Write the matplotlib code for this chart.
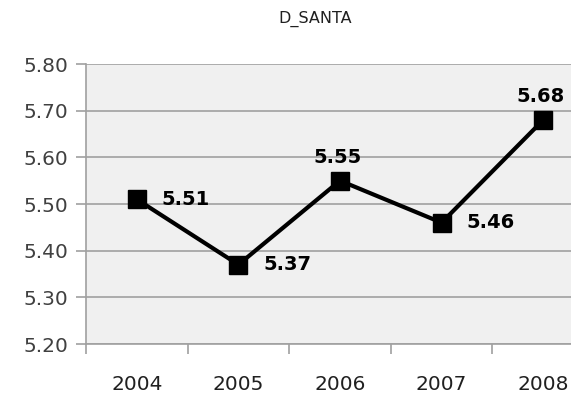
import matplotlib
matplotlib.use("Agg")
import matplotlib.pyplot as plt
from matplotlib.ticker import FixedLocator, NullFormatter

years = ["2004", "2005", "2006", "2007", "2008"]
values = [5.51, 5.37, 5.55, 5.46, 5.68]
label_pos = ["right", "right", "above", "right", "above"]
yticks = [5.20, 5.30, 5.40, 5.50, 5.60, 5.70, 5.80]

W, H = 571, 397
fig = plt.figure(figsize=(W / 100, H / 100), dpi=100)
left, right, top, bottom = 86, 594, 64, 344
ax = fig.add_axes([left / W, 1 - bottom / H, (right - left) / W, (bottom - top) / H])
ax.set_facecolor("#F0F0F0")

x = list(range(len(years)))
ax.plot(x, values, color="black", lw=3, marker="s", markersize=12.5, zorder=3, clip_on=False)

for xi, v, pos in zip(x, values, label_pos):
    if pos == "right":
        ax.annotate(f"{v:.2f}", (xi, v), xytext=(18, 0), textcoords="offset points",
                    ha="left", va="center", fontsize=14, fontweight="bold", color="black")
    else:
        ax.annotate(f"{v:.2f}", (xi, v), xytext=(-2, 10), textcoords="offset points",
                    ha="center", va="bottom", fontsize=14, fontweight="bold", color="black")

ax.set_xlim(-0.5, len(years) - 0.5)
ax.set_ylim(5.20, 5.80)
ax.set_yticks(yticks)
ax.set_yticklabels([f"{t:.2f}" for t in yticks])
ax.set_xticks(x)
ax.set_xticklabels(years)
ax.xaxis.set_minor_locator(FixedLocator([i - 0.5 for i in range(len(years) + 1)]))
ax.xaxis.set_minor_formatter(NullFormatter())

ax.grid(axis="y", color="#A0A0A0", lw=1.2)
ax.set_axisbelow(True)
for s in ["top", "right"]:
    ax.spines[s].set_visible(False)
for s in ["left", "bottom"]:
    ax.spines[s].set_color("#A0A0A0")
    ax.spines[s].set_linewidth(1.2)

ax.tick_params(axis="y", length=7, width=1.2, color="#A0A0A0", labelsize=14.5,
               labelcolor="#404040", pad=6)
ax.tick_params(axis="x", which="major", length=0, labelsize=14.5, labelcolor="#202020", pad=22)
ax.tick_params(axis="x", which="minor", length=7, width=1.2, color="#A0A0A0")

fig.text(315 / W, 1 - 19 / H, "D_SANTA", ha="center", va="center", fontsize=11.5, color="#202020")

fig.savefig("out.png", dpi=100)
